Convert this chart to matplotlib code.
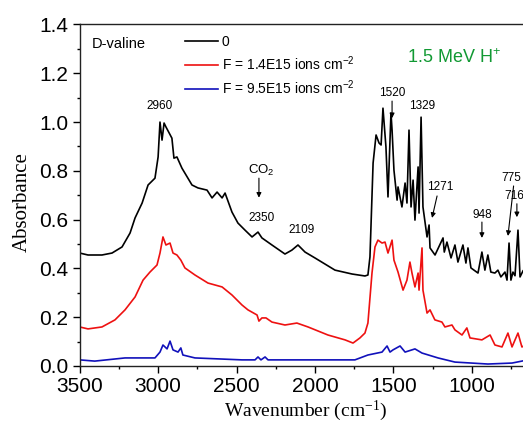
import matplotlib
matplotlib.use('Agg')
import matplotlib.pyplot as plt
from matplotlib.ticker import MultipleLocator

# Espectros IR de D-valina (número de onda em cm-1, absorbância)
wn_0 = [3500, 3447, 3358, 3294, 3230, 3179, 3147, 3102, 3064, 3020, 3000, 2988,
        2975, 2962, 2950, 2912, 2899, 2880, 2848, 2784, 2746, 2688, 2656, 2624,
        2592, 2573, 2529, 2491, 2446, 2401, 2363, 2338, 2274, 2191, 2147, 2108,
        2063, 2000, 1872, 1763, 1681, 1662, 1649, 1629, 1610, 1591, 1578, 1566,
        1547, 1534, 1515, 1508, 1496, 1476, 1470, 1445, 1425, 1413, 1400, 1387,
        1374, 1362, 1342, 1336, 1323, 1311, 1285, 1272, 1266, 1234, 1183, 1175,
        1158, 1132, 1107, 1088, 1056, 1037, 1024, 1005, 960, 935, 916, 897, 878,
        852, 833, 814, 788, 775, 762, 750, 737, 724, 705, 692, 673]
abs_0 = [0.463, 0.455, 0.455, 0.463, 0.488, 0.545, 0.607, 0.668, 0.742, 0.770,
         0.857, 1.0, 0.926, 0.996, 0.98, 0.934, 0.852, 0.857, 0.811, 0.742, 0.730,
         0.721, 0.689, 0.713, 0.689, 0.709, 0.631, 0.586, 0.557, 0.529, 0.549,
         0.525, 0.496, 0.459, 0.475, 0.496, 0.467, 0.443, 0.393, 0.377, 0.369,
         0.373, 0.447, 0.832, 0.947, 0.914, 0.906, 1.057, 0.898, 0.693, 1.037,
         0.967, 0.803, 0.68, 0.734, 0.652, 0.75, 0.668, 0.967, 0.652, 0.762,
         0.598, 0.816, 0.627, 1.02, 0.652, 0.529, 0.578, 0.484, 0.455, 0.525,
         0.467, 0.508, 0.443, 0.496, 0.426, 0.496, 0.422, 0.484, 0.402, 0.381,
         0.467, 0.393, 0.455, 0.385, 0.381, 0.393, 0.365, 0.385, 0.352, 0.504,
         0.352, 0.385, 0.37, 0.557, 0.365, 0.39]

wn_14 = [3500, 3447, 3358, 3275, 3211, 3147, 3096, 3052, 3007, 2988, 2969, 2950,
         2924, 2905, 2880, 2855, 2829, 2765, 2682, 2637, 2592, 2529, 2465, 2427,
         2369, 2357, 2338, 2312, 2274, 2191, 2115, 2044, 1917, 1808, 1757, 1713,
         1681, 1662, 1636, 1617, 1598, 1572, 1553, 1534, 1508, 1496, 1470, 1438,
         1413, 1394, 1381, 1362, 1342, 1336, 1317, 1311, 1285, 1266, 1235, 1190,
         1171, 1126, 1107, 1062, 1031, 1011, 935, 883, 852, 807, 769, 743, 705,
         680, 673]
abs_14 = [0.16, 0.152, 0.16, 0.189, 0.23, 0.283, 0.352, 0.385, 0.414, 0.463,
          0.529, 0.496, 0.504, 0.463, 0.455, 0.434, 0.402, 0.373, 0.34, 0.332,
          0.324, 0.291, 0.25, 0.23, 0.209, 0.184, 0.197, 0.197, 0.18, 0.168,
          0.176, 0.16, 0.127, 0.107, 0.094, 0.115, 0.135, 0.176, 0.381, 0.488,
          0.516, 0.504, 0.508, 0.463, 0.516, 0.434, 0.385, 0.311, 0.352, 0.426,
          0.381, 0.324, 0.381, 0.311, 0.484, 0.311, 0.217, 0.23, 0.189, 0.18,
          0.16, 0.168, 0.148, 0.127, 0.156, 0.115, 0.107, 0.127, 0.086, 0.078,
          0.135, 0.078, 0.135, 0.078, 0.08]

wn_95 = [3500, 3404, 3211, 3020, 2988, 2969, 2943, 2924, 2905, 2873, 2855, 2842,
         2765, 2465, 2382, 2363, 2344, 2318, 2299, 1904, 1745, 1662, 1572, 1540,
         1521, 1502, 1457, 1425, 1362, 1317, 1215, 1107, 897, 743, 680, 673]
abs_95 = [0.025, 0.02, 0.033, 0.033, 0.057, 0.086, 0.07, 0.102, 0.066, 0.057,
          0.074, 0.045, 0.033, 0.025, 0.025, 0.037, 0.025, 0.037, 0.025, 0.025,
          0.025, 0.045, 0.057, 0.082, 0.057, 0.066, 0.082, 0.057, 0.07, 0.053,
          0.033, 0.016, 0.008, 0.012, 0.02, 0.021]

legend_labels = ['0', 'F = 1.4E15 ions cm$^{-2}$', 'F = 9.5E15 ions cm$^{-2}$']

plt.rcParams['font.family'] = ['Liberation Sans', 'DejaVu Sans']
plt.rcParams['mathtext.default'] = 'regular'

fig = plt.figure(figsize=(5.23, 4.29), dpi=100)
ax = fig.add_axes([0.1524, 0.1469, 0.8476, 0.796])

ax.plot(wn_0, abs_0, color='black', lw=1.2, label=legend_labels[0])
ax.plot(wn_14, abs_14, color='#ee1111', lw=1.2, label=legend_labels[1])
ax.plot(wn_95, abs_95, color='#1111bb', lw=1.2, label=legend_labels[2])

ax.set_xlim(3500, 673)
ax.set_ylim(0, 1.4)
ax.xaxis.set_major_locator(MultipleLocator(500))
ax.xaxis.set_minor_locator(MultipleLocator(250))
ax.yaxis.set_major_locator(MultipleLocator(0.2))
ax.yaxis.set_minor_locator(MultipleLocator(0.1))
ax.yaxis.set_major_formatter(plt.FuncFormatter(lambda v, p: f'{v:.1f}'))
ax.tick_params(which='major', direction='out', length=5, width=1, labelsize=15, pad=3)
ax.tick_params(which='minor', direction='out', length=2.5, width=1)
ax.spines['right'].set_visible(False)
for s in ['top', 'left', 'bottom']:
    ax.spines[s].set_linewidth(1.0)
    ax.spines[s].set_color('#222222')

ax.set_xlabel('Wavenumber (cm$^{-1}$)', family='Liberation Serif', fontsize=14)
ax.set_ylabel('Absorbance', family='Liberation Serif', fontsize=15)
ax.xaxis.set_label_coords(0.51, -0.095)
ax.yaxis.set_label_coords(-0.108, 0.48)

leg = ax.legend(loc='upper left', bbox_to_anchor=(185 / 523, 1 - 35 / 429),
                bbox_transform=fig.transFigure, frameon=False, fontsize=10,
                handlelength=2.4, handletextpad=0.25, labelspacing=0.38,
                borderpad=0, borderaxespad=0)

fig.text(92 / 523, 1 - 44 / 429, 'D-valine', fontsize=10.5, va='center')
fig.text(407 / 523, 1 - 58 / 429, '1.5 MeV H$^{+}$', color='#119933', fontsize=13, va='center')

# anotações dos picos
fs = 8.5
arr = dict(arrowstyle='-|>', color='black', lw=0.8, mutation_scale=7, shrinkA=0, shrinkB=0)
ax.text(2990, 1.066, '2960', fontsize=fs, ha='center', va='center')
ax.text(2344, 0.80, 'CO$_2$', fontsize=fs + 1, ha='center', va='center')
ax.annotate('', xy=(2357, 0.69), xytext=(2357, 0.77), arrowprops=arr)
ax.text(2338, 0.607, '2350', fontsize=fs, ha='center', va='center')
ax.text(2083, 0.557, '2109', fontsize=fs, ha='center', va='center')
ax.text(1508, 1.119, '1520', fontsize=fs, ha='center', va='center')
ax.annotate('', xy=(1508, 1.016), xytext=(1508, 1.086), arrowprops=arr)
ax.text(1317, 1.066, '1329', fontsize=fs, ha='center', va='center')
ax.text(1202, 0.734, '1271', fontsize=fs, ha='center', va='center')
ax.annotate('', xy=(1253, 0.607), xytext=(1221, 0.697), arrowprops=arr)
ax.text(935, 0.619, '948', fontsize=fs, ha='center', va='center')
ax.annotate('', xy=(935, 0.525), xytext=(935, 0.59), arrowprops=arr)
ax.text(745, 0.77, '775', fontsize=fs, ha='center', va='center')
ax.annotate('', xy=(769, 0.533), xytext=(733, 0.738), arrowprops=arr)
ax.text(726, 0.697, '716', fontsize=fs, ha='center', va='center', clip_on=False)
ax.annotate('', xy=(712, 0.61), xytext=(712, 0.665), arrowprops=arr)

fig.savefig('out.png', dpi=100)
